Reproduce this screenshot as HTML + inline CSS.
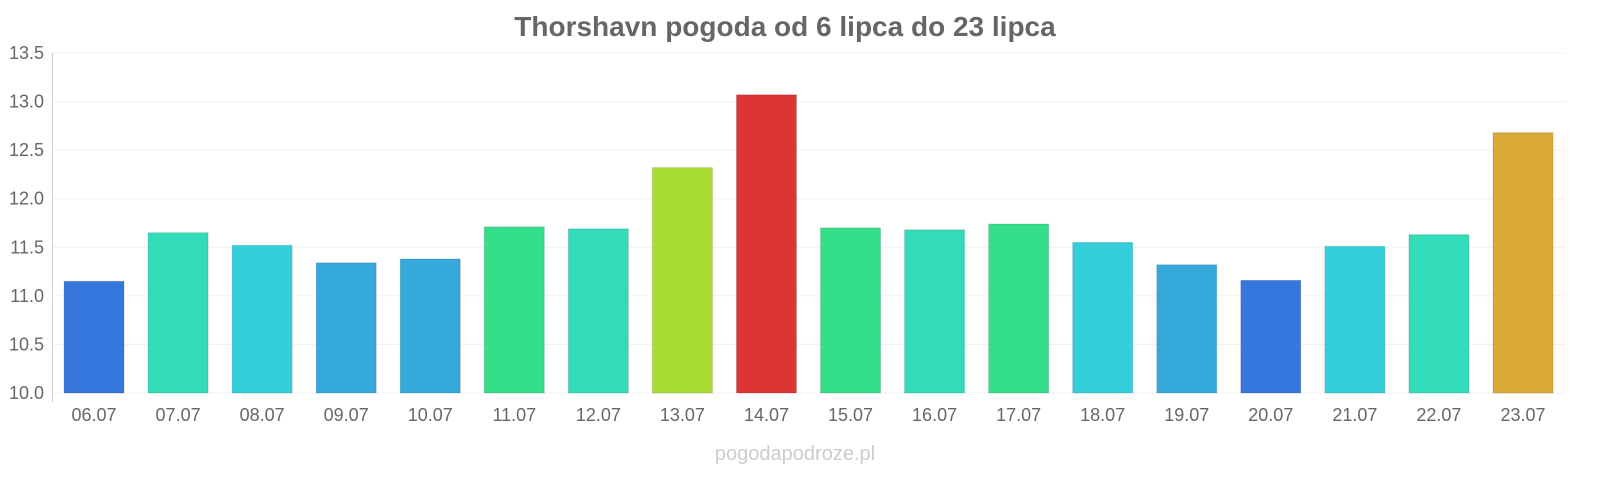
<!DOCTYPE html>
<html><head><meta charset="utf-8"><style>
body{margin:0;background:#fff;}
svg{display:block;font-family:"Liberation Sans",sans-serif;}
</style></head><body>
<svg id="chart" width="1600" height="480" viewBox="0 0 1600 480">
<text x="785" y="36" text-anchor="middle" font-size="28" font-weight="bold" fill="#666">Thorshavn pogoda od 6 lipca do 23 lipca</text>
<g id="grid"></g><g id="bars"></g><g id="labels"></g>
<line x1="52.5" y1="53" x2="52.5" y2="402" stroke="#ccc" stroke-width="1"/>
<text x="795" y="460" text-anchor="middle" font-size="20" fill="#ccc">pogodapodroze.pl</text>
</svg>
<script>
const categories=["06.07","07.07","08.07","09.07","10.07","11.07","12.07","13.07","14.07","15.07","16.07","17.07","18.07","19.07","20.07","21.07","22.07","23.07"];
const values=[11.15,11.65,11.52,11.34,11.38,11.71,11.69,12.32,13.07,11.70,11.68,11.74,11.55,11.32,11.16,11.51,11.63,12.68];
const colors=["#3577dd","#33dcb8","#35cfdc","#35a8dc","#35a8dc","#35de88","#33dcb8","#aadd33","#dc3535","#35de88","#33dcb8","#35de88","#35cfdc","#35a8dc","#3577dd","#35cfdc","#33dcb8","#dba935"];
const ticks=[10.0,10.5,11.0,11.5,12.0,12.5,13.0,13.5];
const ns="http://www.w3.org/2000/svg";
const yMin=10,yMax=13.5,y0=393,y1=53,xL=52,xR=1565;
const y=v=>y0-(v-yMin)/(yMax-yMin)*(y0-y1);
const slot=(xR-xL)/categories.length;
const x=i=>xL+slot*i+slot/2;
const g=document.getElementById("grid"),b=document.getElementById("bars"),l=document.getElementById("labels");
function mk(t,a){const e=document.createElementNS(ns,t);for(const k in a)e.setAttribute(k,a[k]);return e;}
ticks.forEach(t=>{
 const ln=mk("line",{x1:xL,x2:xR,y1:y(t),y2:y(t),stroke:"#f0f0f0"});
 
 
 g.appendChild(ln);
 const tx=mk("text",{x:44,y:y(t)+6,"text-anchor":"end","font-size":"18",fill:"#666"});
 
 
 tx.textContent=t.toFixed(1);g.appendChild(tx);
});
categories.forEach((c,i)=>{
 const r=mk("rect",{x:x(i)-30,y:y(values[i]),width:60,height:y0-y(values[i]),fill:colors[i],stroke:"rgba(0,0,0,0.12)","stroke-width":"1"});
 
 
 b.appendChild(r);
 const tx=mk("text",{x:x(i),y:421,"text-anchor":"middle","font-size":"18",fill:"#666"});
 
 
 tx.textContent=c;l.appendChild(tx);
});
</script>
</body></html>
